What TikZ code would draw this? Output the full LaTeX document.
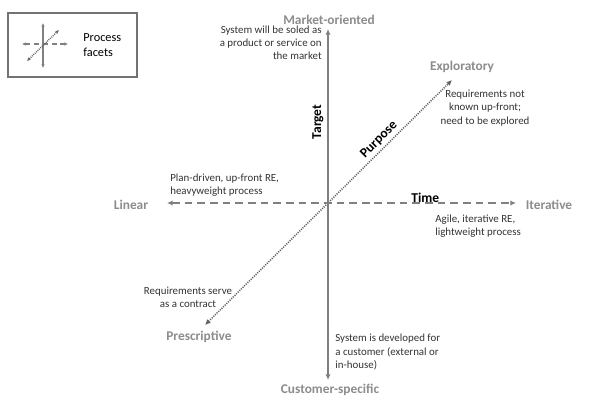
\documentclass[tikz,border=0pt]{standalone}
\usepackage{fontspec}
\setmainfont{Carlito}
\usetikzlibrary{arrows.meta}

\begin{document}
\begin{tikzpicture}[x=0.02cm,y=-0.02cm,
	facet/.style={font=\bfseries\fontsize{7.6}{9}\selectfont,text=black!45,inner sep=0pt},
	axis/.style={font=\bfseries\fontsize{7.7}{9}\selectfont,inner sep=1pt},
	note/.style={font=\fontsize{6.2}{7.5}\selectfont,text=black!80,inner sep=0pt},
	tip/.style={<->,>={Latex[length=3.2pt,width=3pt]}},
	solidax/.style={tip,draw=black!50,line width=1.1pt},
	dashax/.style={tip,draw=black!50,line width=0.9pt,dash pattern=on 4.4pt off 2.8pt},
	dotax/.style={tip,draw=black!62,line width=0.9pt,dash pattern=on 0.6pt off 0.7pt}]
\useasboundingbox (0,0) rectangle (591,402);
% legend
\draw[black!55,line width=0.8pt] (8,13) rectangle (137,77);
\coordinate (lt) at (43,23);
\coordinate (lb) at (43,68);
\coordinate (ll) at (22,44);
\coordinate (lr) at (68,44);
\coordinate (ld) at (27,61);
\coordinate (lu) at (59,30);
\draw[tip,>={Latex[length=2pt,width=2pt]},draw=black!50,line width=0.9pt] (lb) -- (lt);
\draw[tip,>={Latex[length=2pt,width=2pt]},draw=black!50,line width=0.8pt,dash pattern=on 3pt off 2pt] (ll) -- (lr);
\draw[tip,>={Latex[length=2pt,width=2pt]},draw=black!62,line width=0.8pt,dash pattern=on 0.5pt off 0.6pt] (ld) -- (lu);
\node[anchor=west,align=left,font=\fontsize{7}{8.4}\selectfont,inner sep=0pt] (leg) at (83,45) {Process\\facets};
% axes
\coordinate (mo) at (328,29);
\coordinate (cs) at (328,380);
\coordinate (li) at (167,203);
\coordinate (it) at (516,203);
\coordinate (ex) at (452,80);
\coordinate (pr) at (205,325);
\draw[dotax] (pr) -- (ex) node[pos=0.73,sloped,above=0.5pt,axis] (pur) {Purpose};
\draw[dashax] (li) -- (it) node[pos=0.74,above=-1.5pt,axis] (tim) {Time};
\draw[solidax] (cs) -- (mo) node[pos=0.735,sloped,above=1pt,axis] (tar) {Target};
% facet names
\node[facet] (mol) at (329,20) {Market-oriented};
\node[facet] (csl) at (330,390) {Customer-specific};
\node[facet] (lil) at (131,205) {Linear};
\node[facet] (itl) at (549,205) {Iterative};
\node[facet] (exl) at (462,67) {Exploratory};
\node[facet] (prl) at (199,337) {Prescriptive};
% notes
\node[note,anchor=east,align=right] (n1) at (322,43) {System will be soled as\\a product or service on\\the market};
\node[note,align=center] (n2) at (485,108) {Requirements not\\known up-front;\\need to be explored};
\node[note,anchor=west,align=left] (n3) at (170,185) {Plan-driven, up-front RE,\\heavyweight process};
\node[note,anchor=west,align=left] (n4) at (435,226) {Agile, iterative RE,\\lightweight process};
\node[note,align=center] (n5) at (188,297) {Requirements serve\\as a contract};
\node[note,anchor=west,align=left] (n6) at (335,352) {System is developed for\\a customer (external or\\in-house)};
\end{tikzpicture}
\end{document}
